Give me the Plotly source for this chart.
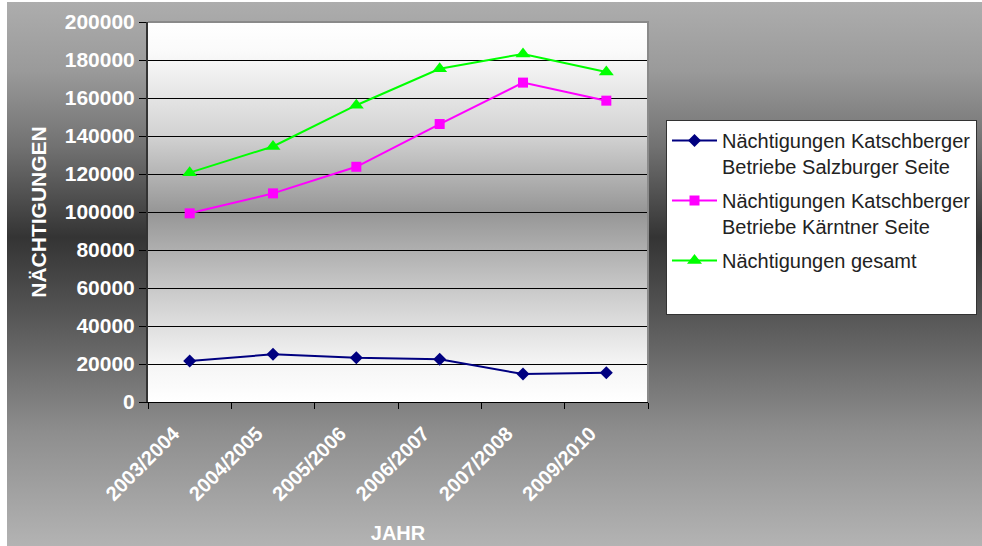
import base64
import plotly.graph_objects as go

# ---- data ----
jahre = ["2003/2004", "2004/2005", "2005/2006", "2006/2007", "2007/2008", "2009/2010"]
salzburger = [21600, 25100, 23300, 22500, 14700, 15400]
kaerntner = [99300, 109800, 123800, 146300, 168100, 158600]
gesamt = [120700, 134500, 156200, 175400, 183200, 173700]
namen = [
    "Nächtigungen Katschberger<br>Betriebe Salzburger Seite",
    "Nächtigungen Katschberger<br>Betriebe Kärntner Seite",
    "Nächtigungen gesamt",
]
y_ticks = list(range(0, 200001, 20000))

W, H = 982, 546
ML, MR, MT, MB = 148, 334, 22, 144
PW, PH = W - ML - MR, H - MT - MB
FONT = "Liberation Sans, Arial, sans-serif"


def grad_uri(stops):
    st = "".join(f'<stop offset="{o}" stop-color="{c}"/>' for o, c in stops)
    svg = ('<svg xmlns="http://www.w3.org/2000/svg" width="100" height="100" '
           'viewBox="0 0 100 100" preserveAspectRatio="none"><defs>'
           f'<linearGradient id="g" x1="0" y1="0" x2="0" y2="1">{st}</linearGradient>'
           '</defs><rect width="100" height="100" fill="url(#g)"/></svg>')
    return "data:image/svg+xml;base64," + base64.b64encode(svg.encode()).decode()


outer = grad_uri([(0, "#adadad"), (0.12, "#9a9a9a"), (0.25, "#727272"), (0.41, "#343434"),
                  (0.55, "#575757"), (0.75, "#8e8e8e"), (1, "#bdbdbd")])
inner = grad_uri([(0, "#ffffff"), (0.08, "#fafafa"), (0.3, "#d2d2d2"), (0.5, "#969696"),
                  (0.72, "#cdcdcd"), (0.9, "#f5f5f5"), (1, "#ffffff")])


def px_x(p):
    return (p - ML) / PW


def px_y(p):
    return (H - MB - p) / PH


fig = go.Figure()
styles = [
    dict(color="#000080", symbol="diamond", size=10),
    dict(color="#FF00FF", symbol="square", size=10),
    dict(color="#00FF00", symbol="triangle-up", size=13),
]
for i, (vals, name, st) in enumerate(zip([salzburger, kaerntner, gesamt], namen, styles)):
    fig.add_trace(go.Scatter(
        x=jahre, y=vals, name=name, mode="lines+markers",
        line=dict(color=st["color"], width=2),
        marker=dict(color=st["color"], symbol=st["symbol"], size=st["size"]),
        legendgroup=f"g{i}",
    ))
# blank legend row: the original legend box has empty space below the last entry
fig.add_trace(go.Scatter(
    x=[None], y=[None], name=" ", mode="lines", line=dict(width=0, color="rgba(0,0,0,0)"),
    legendgroup="pad", hoverinfo="skip",
))

fig.update_layout(
    width=W, height=H,
    margin=dict(l=ML, r=MR, t=MT, b=MB, autoexpand=False),
    paper_bgcolor="white",
    plot_bgcolor="rgba(0,0,0,0)",
    font=dict(family=FONT),
    showlegend=True,
    legend=dict(
        x=px_x(666), y=px_y(120), xanchor="left", yanchor="top",
        bgcolor="white", bordercolor="#333333", borderwidth=1,
        font=dict(size=20, color="#222222"), valign="top",
        tracegroupgap=5, itemwidth=45,
    ),
    images=[
        dict(source=outer, xref="paper", yref="paper", x=px_x(7), y=px_y(2),
             sizex=(W + 60 - 7) / PW, sizey=(H + 30 - 2) / PH, xanchor="left", yanchor="top",
             sizing="stretch", layer="below"),
        dict(source=inner, xref="paper", yref="paper", x=0, y=1, sizex=1, sizey=1,
             xanchor="left", yanchor="top", sizing="stretch", layer="below"),
    ],
    shapes=[
        dict(type="path", xref="paper", yref="paper", path="M 0 1 L 1 1 L 1 0",
             line=dict(color="#8a8a8a", width=2), layer="above"),
    ],
)

fig.update_xaxes(
    type="category", categoryorder="array", categoryarray=jahre,
    range=[-0.5, len(jahre) - 0.5], tickson="boundaries",
    ticks="outside", ticklen=6, tickcolor="black",
    showline=True, linecolor="black", linewidth=1,
    showgrid=False, zeroline=False, tickangle=-45,
    ticklabelshift=-16, ticklabelstandoff=11,
    tickfont=dict(size=20, color="white", family=FONT, weight="bold"),
    title=dict(text="<b>JAHR</b>", font=dict(size=20, color="white"), standoff=22),
)
fig.update_yaxes(
    range=[0, 200000], tickvals=y_ticks, ticktext=[str(v) for v in y_ticks],
    ticks="outside", ticklen=7, tickcolor="black",
    showline=True, linecolor="#333333", linewidth=2,
    showgrid=True, gridcolor="black", gridwidth=1, zeroline=False,
    tickfont=dict(size=21, color="white", family=FONT, weight="bold"),
    title=dict(text="<b>NÄCHTIGUNGEN</b>", font=dict(size=21, color="white"), standoff=12),
)

fig.write_html(
    "out.html", config={"displayModeBar": False},
    post_script="document.body.style.margin='0';"
                "document.documentElement.style.overflow='hidden';"
                "document.body.style.overflow='hidden';",
)
